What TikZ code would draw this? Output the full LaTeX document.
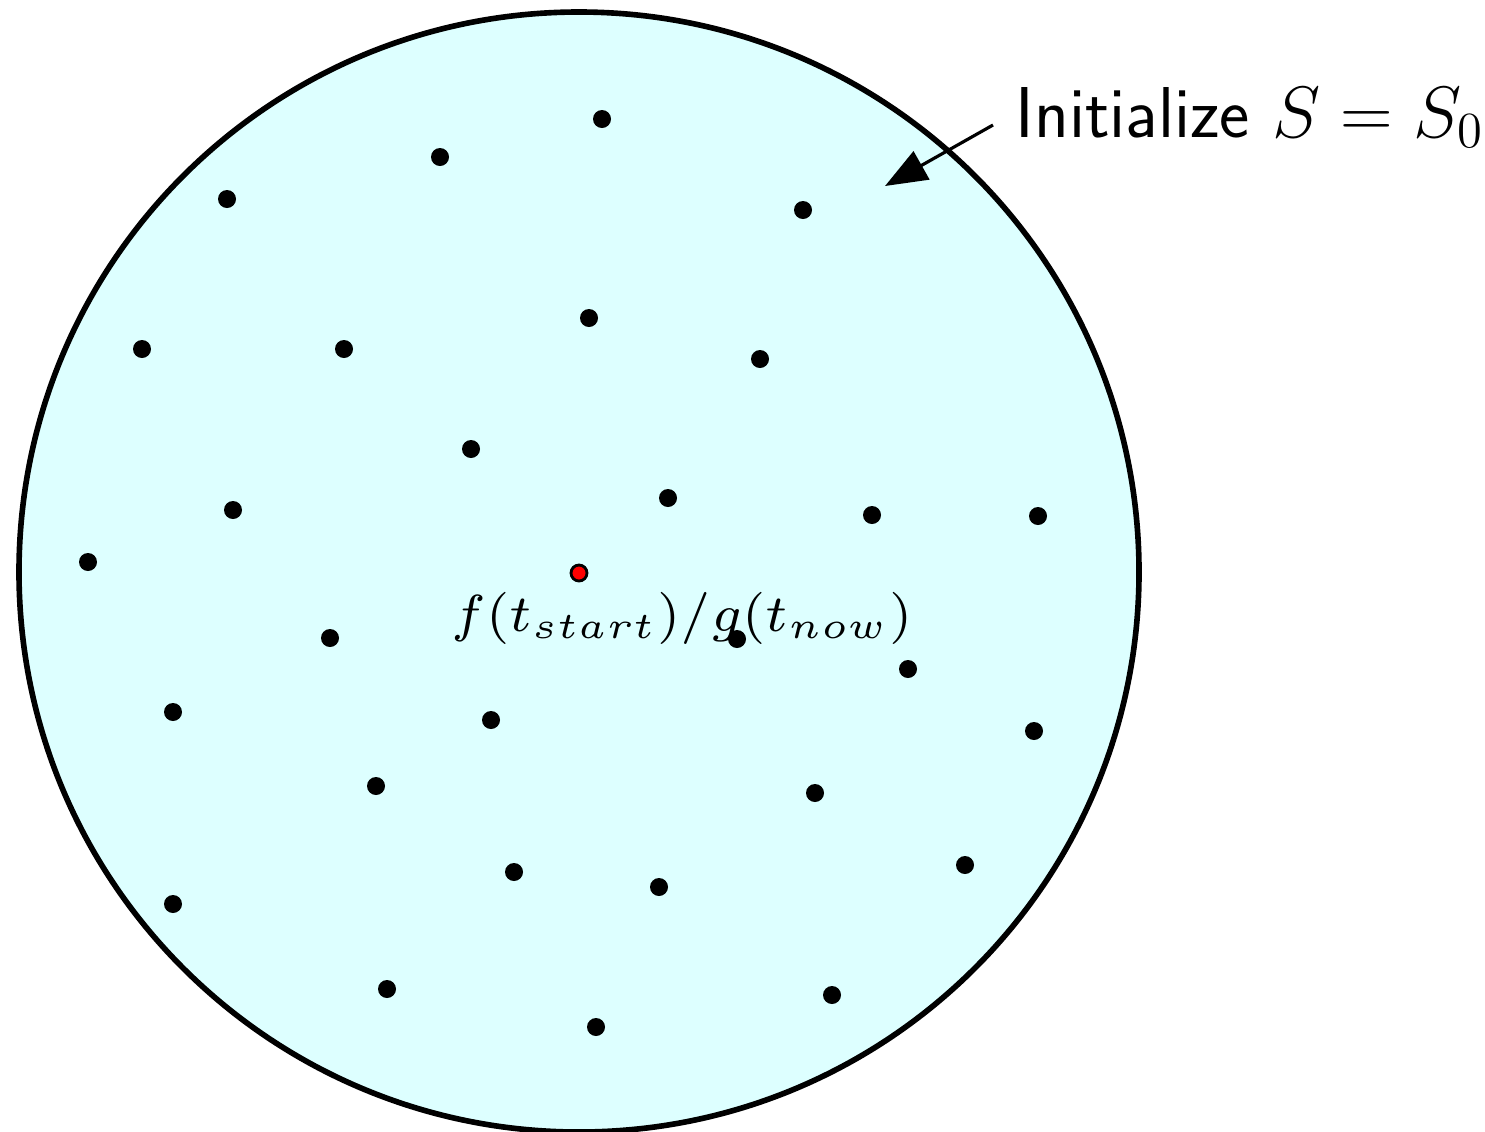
\documentclass[tikz,border=0pt]{standalone}
\usetikzlibrary{positioning, arrows.meta}
\definecolor{regionfill}{RGB}{221,255,255}

\begin{document}
\begin{tikzpicture}[
    region/.style={circle, draw, line width=1.6pt, fill=regionfill, minimum size=11.2cm, inner sep=0pt},
    pt/.style={circle, fill=black, minimum size=0.18cm, inner sep=0pt},
    start/.style={circle, draw, fill=red, line width=0.8pt, minimum size=0.16cm, inner sep=0pt},
    note/.style={font=\fontsize{20.5}{24}\selectfont\sffamily},
    val/.style={font=\scriptsize, scale=2.12},
    pointer/.style={-{Triangle[length=4.2mm, width=3.2mm]}, line width=0.9pt}
]
\useasboundingbox (0,0) rectangle (14.85,-11.31);

% Search region
\node[region] (S) at (5.79,-5.72) {};

% Sample points
\foreach \x/\y [count=\i] in {6.02/1.19, 4.40/1.57, 2.27/1.99, 8.03/2.10, 5.89/3.18,
    1.42/3.49, 3.44/3.49, 7.60/3.59, 4.71/4.49, 6.68/4.98, 2.33/5.10, 8.72/5.15,
    10.38/5.16, 0.88/5.62, 3.30/6.38, 7.37/6.39, 9.08/6.69, 1.73/7.12, 4.91/7.20,
    10.34/7.31, 3.76/7.86, 8.15/7.93, 5.14/8.72, 6.59/8.87, 9.65/8.65, 1.73/9.04,
    3.87/9.89, 8.32/9.95, 5.96/10.27}
    \node[pt] (p\i) at (\x,-\y) {};

% Starting point and its value
\node[start] (s0) at (5.79,-5.73) {};
\node[val, anchor=base] (fval) at (6.82,-6.31) {$f(t_{start})/g(t_{now})$};

% Initialization note
\node[note, anchor=base west, inner sep=0pt] (init) at (10.15,-1.37) {Initialize $S=S_0$};
\coordinate (from) at (9.93,-1.25);
\coordinate (tip) at (8.85,-1.86);
\draw[pointer] (from) -- (tip);

\end{tikzpicture}
\end{document}
